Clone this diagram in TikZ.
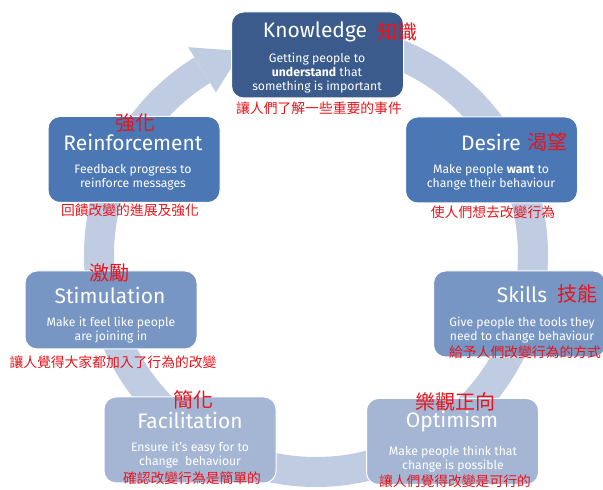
\documentclass[tikz,border=0pt]{standalone}
\usepackage{fontspec}
\setmainfont{Fira Sans}
\newfontfamily\cjk{Noto Sans CJK TC}
\usetikzlibrary{positioning}
\definecolor{ringblue}{HTML}{C0CCE2}
\definecolor{darkblue}{HTML}{3A5B8C}
\definecolor{midblue}{HTML}{4B78B4}
\definecolor{softblue}{HTML}{7896C3}
\definecolor{paleblue}{HTML}{A5B6D5}
\definecolor{zhred}{HTML}{E8141C}
\tikzstyle{box} = [rounded corners=12pt, draw=white, line width=1pt, minimum width=172pt, minimum height=86pt, inner sep=0pt]
\tikzstyle{title} = [text=white, inner sep=0pt, font=\fontsize{21}{24}\selectfont]
\tikzstyle{body} = [text=white, inner sep=0pt, align=center, font=\fontsize{12.2}{14}\selectfont]
\tikzstyle{zh} = [text=zhred, inner sep=0pt, font=\cjk\fontsize{13.8}{15}\selectfont]
\tikzstyle{zhtitle} = [text=zhred, inner sep=0pt, font=\cjk\fontsize{20}{22}\selectfont]

\begin{document}
\begin{tikzpicture}[x=1pt, y=1pt]
	\useasboundingbox (0,0) rectangle (603,490);
	% ring with arrow head
	\coordinate (hub) at (316,235);
	\draw[ringblue, line width=30pt] ([shift={(88:217)}]hub) arc[start angle=88, end angle=-238.4, radius=217];
	\fill[ringblue] ([shift={(121.6:191)}]hub) -- ([shift={(121.6:244)}]hub) -- ([shift={(110:217)}]hub) -- cycle;

	% Knowledge
	\node[box, fill=darkblue] (know) at (317.5,435) {};
	\node[title] (knowtitle) at (315,458) {Knowledge};
	\node[zhtitle] (knowzh) at (397,458) {知識};
	\node[body] (knowbody) at (317,417) {Getting people to\\\textbf{understand} that\\something is important};
	\node[zh] (knowsub) at (319,382) {讓人們了解一些重要的事件};

	% Desire
	\node[box, fill=midblue] (desire) at (491.5,330) {};
	\node[title] (desiretitle) at (491,348) {Desire};
	\node[zhtitle] (desirezh) at (547,348) {渴望};
	\node[body] (desirebody) at (491,312.5) {Make people \textbf{want} to\\change their behaviour};
	\node[zh] (desiresub) at (493,278) {使人們想去改變行為};

	% Skills
	\node[box, fill=softblue] (skills) at (519.5,176) {};
	\node[title] (skillstitle) at (522,196) {Skills};
	\node[zhtitle] (skillszh) at (577,196) {技能};
	\node[body] (skillsbody) at (522,160) {Give people the tools they\\need to change behaviour};
	\node[zh] (skillssub) at (525,138) {給予人們改變行為的方式};

	% Optimism
	\node[box, fill=paleblue] (optim) at (452.5,48.5) {};
	\node[zhtitle] (optimzh) at (455,88) {樂觀正向};
	\node[title] (optimtitle) at (452,68) {Optimism};
	\node[body] (optimbody) at (453,30.5) {Make people think that\\change is possible};
	\node[zh] (optimsub) at (455,9) {讓人們覺得改變是可行的};

	% Facilitation
	\node[box, fill=paleblue] (facil) at (190,50) {};
	\node[zhtitle] (facilzh) at (193,90) {簡化};
	\node[title] (faciltitle) at (190,70) {Facilitation};
	\node[body] (facilbody) at (190,34.5) {Ensure it's easy for to\\change~ behaviour};
	\node[zh] (facilsub) at (192,12) {確認改變行為是簡單的};

	% Stimulation
	\node[box, fill=softblue, minimum height=78pt] (stim) at (111,180) {};
	\node[zhtitle] (stimzh) at (109,217) {激勵};
	\node[title] (stimtitle) at (110,195) {Stimulation};
	\node[body] (stimbody) at (111,159.5) {Make it feel like people\\are joining in};
	\node[zh] (stimsub) at (113,128) {讓人覺得大家都加入了行為的改變};

	% Reinforcement
	\node[box, fill=midblue] (reinf) at (134,330.5) {};
	\node[zhtitle] (reinfzh) at (135,367) {強化};
	\node[title] (reinftitle) at (133,348) {Reinforcement};
	\node[body] (reinfbody) at (133,312.5) {Feedback progress to\\reinforce messages};
	\node[zh] (reinfsub) at (130,280) {回饋改變的進展及強化};
\end{tikzpicture}
\end{document}
